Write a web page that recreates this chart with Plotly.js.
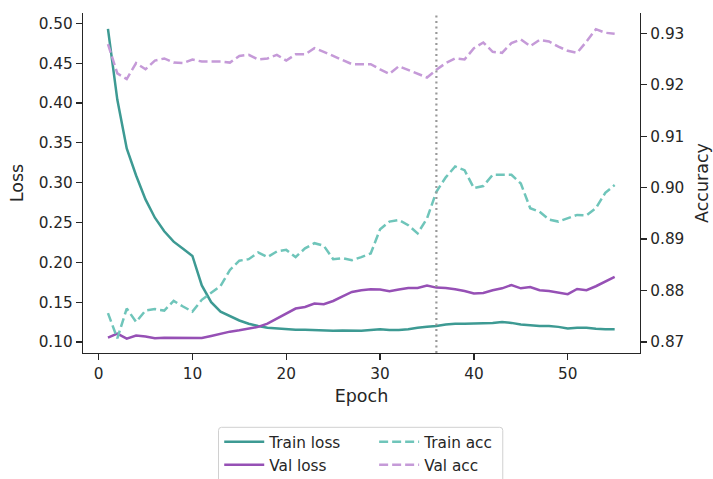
<!DOCTYPE html>
<html>
<head>
<meta charset="utf-8">
<script src="https://cdn.plot.ly/plotly-3.0.1.min.js"></script>
<style>html,body{margin:0;padding:0;background:#fff;}#chart{width:713px;height:479px;}</style>
</head>
<body>
<div id="chart"></div>
<script>
const epochs = Array.from({length: 55}, (_, i) => i + 1);
const trainLoss = [0.493,0.404,0.343,0.309,0.279,0.256,0.239,0.226,0.217,0.208,
  0.171,0.150,0.138,0.132,0.127,0.123,0.120,0.118,0.117,0.116,
  0.1155,0.1155,0.115,0.115,0.114,0.1145,0.114,0.114,0.115,0.116,
  0.115,0.115,0.116,0.118,0.119,0.120,0.122,0.123,0.123,0.123,
  0.1235,0.124,0.125,0.124,0.122,0.121,0.120,0.120,0.119,0.117,
  0.118,0.118,0.1165,0.116,0.116];
const valLoss = [0.1055,0.1105,0.1043,0.108,0.1068,0.1047,0.1055,0.1055,0.1055,0.1058,
  0.1050,0.1076,0.1105,0.113,0.1147,0.1168,0.119,0.123,0.1294,0.1357,
  0.142,0.144,0.1482,0.1474,0.1515,0.1574,0.1628,0.165,0.1662,0.1658,
  0.1637,0.1658,0.1678,0.1678,0.1708,0.1683,0.1678,0.1662,0.1641,0.1608,
  0.1616,0.165,0.1674,0.1716,0.1674,0.1691,0.165,0.1641,0.162,0.160,
  0.1666,0.165,0.170,0.1758,0.1817];
const trainAcc = [0.8756,0.8707,0.8765,0.8739,0.8761,0.8764,0.8761,0.8780,0.8769,0.8759,
  0.8782,0.8796,0.8809,0.8840,0.8858,0.8861,0.8874,0.8865,0.8876,0.8879,
  0.8865,0.8882,0.8892,0.8887,0.8861,0.8863,0.8859,0.8865,0.8872,0.8919,
  0.8934,0.8937,0.8927,0.8911,0.8940,0.8992,0.9020,0.9041,0.9034,0.8999,
  0.9003,0.9025,0.9025,0.9025,0.9008,0.8960,0.8953,0.8938,0.8934,0.8940,
  0.8947,0.8946,0.8960,0.8990,0.9005];
const valAcc = [0.9279,0.9222,0.9211,0.9242,0.9230,0.9247,0.9251,0.9243,0.9242,0.9249,
  0.9245,0.9245,0.9245,0.9243,0.9256,0.9258,0.9249,0.9251,0.9258,0.9247,
  0.9259,0.9259,0.9271,0.9264,0.9256,0.9247,0.9240,0.9240,0.9240,0.9230,
  0.9221,0.9236,0.9229,0.9221,0.9214,0.9229,0.9242,0.9251,0.9249,0.9271,
  0.9282,0.9264,0.9262,0.9281,0.9288,0.9275,0.9287,0.9284,0.9274,0.9266,
  0.9262,0.9284,0.9308,0.9301,0.9299];
const bestEpoch = 36;
const xTicks = [0, 10, 20, 30, 40, 50];

const FONT = 'DejaVu Sans, sans-serif';
const INK = '#262626';
const DASH = '9px,4px';

const traces = [
  {x: epochs, y: trainLoss, name: 'Train loss', mode: 'lines', yaxis: 'y',
   line: {color: '#3d9a93', width: 2.5}, legend: 'legend'},
  {x: epochs, y: valLoss, name: 'Val loss', mode: 'lines', yaxis: 'y',
   line: {color: '#9650b5', width: 2.5}, legend: 'legend'},
  {x: epochs, y: trainAcc, name: 'Train acc', mode: 'lines', yaxis: 'y2',
   line: {color: '#6fc5ba', width: 2.5, dash: DASH}, legend: 'legend2'},
  {x: epochs, y: valAcc, name: 'Val acc', mode: 'lines', yaxis: 'y2',
   line: {color: '#c59ad8', width: 2.5, dash: DASH}, legend: 'legend2'}
];

const W = 557.3, H = 340;
const rx = 3 / W, ry = 3 / H;
const bx0 = (218.3 - 82.7) / W, bx1 = (502.7 - 82.7) / W;
const by1 = (353 - 427.3) / H, by0 = (353 - 500) / H;
const framePath = `M${bx0 + rx},${by1} L${bx1 - rx},${by1} Q${bx1},${by1} ${bx1},${by1 - ry} ` +
  `L${bx1},${by0} L${bx0},${by0} L${bx0},${by1 - ry} Q${bx0},${by1} ${bx0 + rx},${by1} Z`;

const layout = {
  width: 713, height: 479,
  margin: {l: 82.7, r: 73, t: 13, b: 126, autoexpand: false},
  paper_bgcolor: '#fff', plot_bgcolor: '#fff',
  font: {family: FONT, size: 15.3, color: INK},
  showlegend: true,
  xaxis: {
    range: [-1.66, 57.7], tickvals: xTicks, ticks: 'outside', ticklen: 6, tickwidth: 1.25,
    tickcolor: INK, showline: true, linecolor: INK, linewidth: 1.25, showgrid: false,
    zeroline: false, tickfont: {size: 15.3, color: INK},
    title: {text: 'Epoch', font: {size: 17.5, color: INK}, standoff: 8}
  },
  yaxis: {
    range: [0.0862, 0.513], tickvals: [0.10,0.15,0.20,0.25,0.30,0.35,0.40,0.45,0.50],
    tickformat: '.2f', ticks: 'outside', ticklen: 6, tickwidth: 1.25, tickcolor: INK,
    showline: true, linecolor: INK, linewidth: 1.25, showgrid: false, zeroline: false,
    tickfont: {size: 15.3, color: INK},
    title: {text: 'Loss', font: {size: 17.5, color: INK}, standoff: 10}
  },
  yaxis2: {
    overlaying: 'y', side: 'right', range: [0.86786, 0.93394],
    tickvals: [0.87,0.88,0.89,0.90,0.91,0.92,0.93], tickformat: '.2f',
    ticks: 'outside', ticklen: 6, tickwidth: 1.25, tickcolor: INK,
    showline: true, linecolor: INK, linewidth: 1.25, showgrid: false, zeroline: false,
    tickfont: {size: 15.3, color: INK},
    title: {text: 'Accuracy', font: {size: 17.5, color: INK}, standoff: 12}
  },
  legend: {
    x: (219 - 82.7) / W, y: (353 - 425.3) / H, xanchor: 'left', yanchor: 'top',
    orientation: 'v', bgcolor: 'rgba(0,0,0,0)', borderwidth: 0,
    font: {size: 15.3, color: INK}, itemwidth: 40, tracegroupgap: 0
  },
  legend2: {
    x: (374 - 82.7) / W, y: (353 - 425.3) / H, xanchor: 'left', yanchor: 'top',
    orientation: 'v', bgcolor: 'rgba(0,0,0,0)', borderwidth: 0,
    font: {size: 15.3, color: INK}, itemwidth: 40, tracegroupgap: 0
  },
  shapes: [
    {type: 'line', xref: 'x', yref: 'paper', x0: bestEpoch, x1: bestEpoch, y0: 0, y1: 1,
     line: {color: '#999999', width: 2.2, dash: '2px,3.5px'}, layer: 'above'},
    {type: 'path', xref: 'paper', yref: 'paper', path: framePath,
     line: {color: '#d0d0d0', width: 1}, fillcolor: 'rgba(255,255,255,0.8)', layer: 'below'}
  ]
};

Plotly.newPlot('chart', traces, layout, {displayModeBar: false, staticPlot: true});
</script>
</body>
</html>
